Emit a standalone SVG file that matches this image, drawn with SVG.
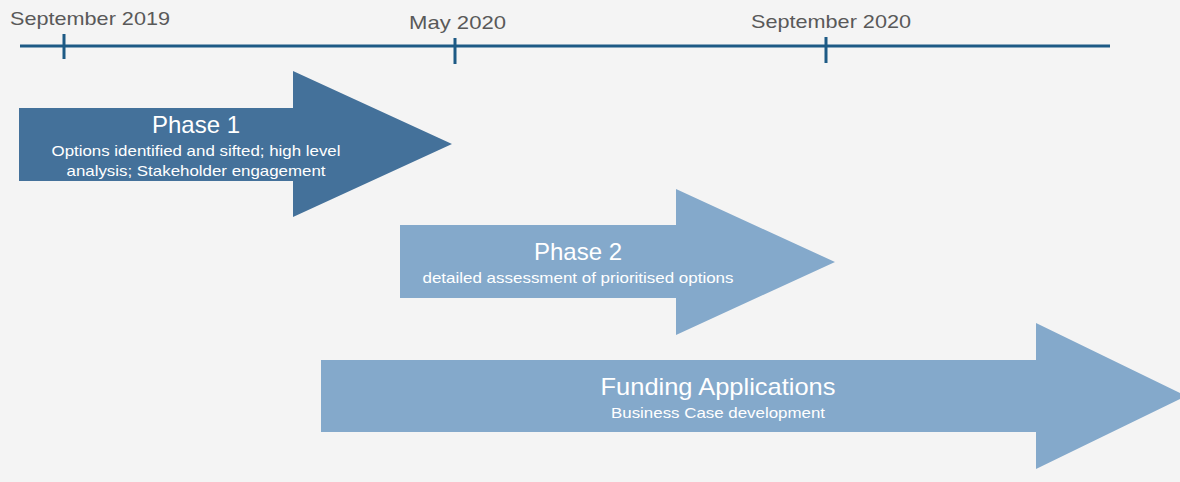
<svg xmlns="http://www.w3.org/2000/svg" width="1180" height="482" viewBox="0 0 1180 482">
<style>
.date{font-family:"Liberation Sans",Arial,sans-serif;font-size:19px;fill:#595959}
.title{font-family:"Liberation Sans",Arial,sans-serif;font-size:24px;fill:#ffffff;text-anchor:middle}
.sub{font-family:"Liberation Sans",Arial,sans-serif;font-size:15px;fill:#ffffff;text-anchor:middle}
.axis{stroke:#1d5a85;stroke-width:3;fill:none}
.dark{fill:#44719a}
.light{fill:#84a9cb}
</style>
<rect width="1180" height="482" fill="#f4f4f4"/>
<g id="timeline">
<line class="axis" x1="20" y1="46" x2="1110" y2="46"/>
<line class="axis" x1="64" y1="34" x2="64" y2="59"/>
<line class="axis" x1="455" y1="38" x2="455" y2="64"/>
<line class="axis" x1="826" y1="37" x2="826" y2="63"/>
<text class="date" x="10" y="25" textLength="160" lengthAdjust="spacingAndGlyphs">September 2019</text>
<text class="date" x="409" y="29" textLength="97" lengthAdjust="spacingAndGlyphs">May 2020</text>
<text class="date" x="751" y="28" textLength="160" lengthAdjust="spacingAndGlyphs">September 2020</text>
</g>
<g id="phase1">
<polygon class="dark" points="19,108 293,108 293,71 452,144 293,217 293,181 19,181"/>
<text class="title" x="196" y="133">Phase 1</text>
<text class="sub" x="196" y="156" textLength="289" lengthAdjust="spacingAndGlyphs">Options identified and sifted; high level</text>
<text class="sub" x="196" y="176" textLength="259" lengthAdjust="spacingAndGlyphs">analysis; Stakeholder engagement</text>
</g>
<g id="phase2">
<polygon class="light" points="400,225 676,225 676,189 835,262 676,335 676,298 400,298"/>
<text class="title" x="578" y="260">Phase 2</text>
<text class="sub" x="578" y="283" textLength="311" lengthAdjust="spacingAndGlyphs">detailed assessment of prioritised options</text>
</g>
<g id="funding">
<polygon class="light" points="321,360 1036,360 1036,323 1186,396 1036,469 1036,432 321,432"/>
<text class="title" x="718" y="395" textLength="235" lengthAdjust="spacingAndGlyphs">Funding Applications</text>
<text class="sub" x="718" y="418" textLength="214" lengthAdjust="spacingAndGlyphs">Business Case development</text>
</g>
<g id="connectors"/>
</svg>
